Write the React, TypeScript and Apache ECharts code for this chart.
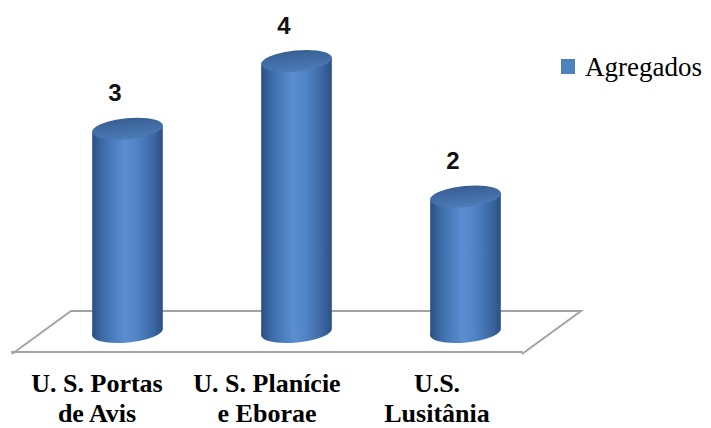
import React, { useEffect, useRef } from "react";
import * as echarts from "echarts";

const categories = ["U. S. Portas\nde Avis", "U. S. Planície\ne Eborae", "U.S.\nLusitânia"];
const values = [3, 4, 2];
const seriesName = "Agregados";

const SERIF = "Liberation Serif";
const SANS = "Liberation Sans";

export default function App() {
  const ref = useRef<HTMLDivElement>(null);
  useEffect(() => {
    if (!ref.current) return;
    const chart = echarts.init(ref.current, undefined, { renderer: "svg" });
    const bodyGrad = () =>
      new echarts.graphic.LinearGradient(0, 0, 1, 0, [
        { offset: 0, color: "#2A4F83" },
        { offset: 0.15, color: "#3E6CA8" },
        { offset: 0.45, color: "#5A8ED2" },
        { offset: 0.62, color: "#5285C7" },
        { offset: 0.86, color: "#3B67A2" },
        { offset: 1, color: "#2B5185" },
      ]);
    const topGrad = () =>
      new echarts.graphic.LinearGradient(0, 0, 0, 1, [
        { offset: 0, color: "#385F94" },
        { offset: 1, color: "#4C7BB8" },
      ]);
    const option: any = {
      animation: false,
      textStyle: { fontFamily: SERIF },
      legend: {
        left: 556,
        top: 48,
        icon: "rect",
        itemWidth: 14,
        itemHeight: 15,
        data: [seriesName],
        textStyle: {
          fontFamily: SERIF,
          fontSize: 27,
          color: "#000",
          padding: [0, 0, 0, 5],
        },
      },
      grid: [
        { left: 43, right: 161, top: 61, height: 271 },
        { left: 12, width: 510, top: 311, height: 43 },
      ],
      xAxis: [
        { type: "category", data: categories, gridIndex: 0, show: false },
        {
          type: "category",
          data: categories,
          gridIndex: 1,
          axisLine: { lineStyle: { color: "#A3A3A3", width: 2 } },
          axisTick: { length: 6, lineStyle: { color: "#A3A3A3", width: 2 } },
          axisLabel: {
            fontFamily: SERIF,
            fontWeight: "bold",
            fontSize: 26,
            lineHeight: 30,
            color: "#000",
            margin: 16,
            interval: 0,
          },
        },
      ],
      yAxis: [
        { type: "value", min: 0, max: 4, gridIndex: 0, show: false },
        { type: "value", gridIndex: 1, show: false },
      ],
      graphic: [
        {
          type: "polyline",
          z: 0,
          shape: { points: [[12, 354], [71, 311], [581, 311], [522, 354]] },
          style: { stroke: "#A3A3A3", lineWidth: 2, fill: null },
        },
      ],
      series: [
        {
          type: "custom",
          name: seriesName,
          xAxisIndex: 0,
          yAxisIndex: 0,
          z: 5,
          itemStyle: { color: "#4F81BD" },
          data: values.map((v, i) => [i, v]),
          renderItem: (params: any, api: any) => {
            const idx = api.value(0);
            const val = api.value(1);
            const top = api.coord([idx, val]);
            const base = api.coord([idx, 0]);
            const w = api.size([1, 0])[0] * 0.42;
            const rx = w / 2;
            const ry = 10.5;
            const rot = 0.1;
            const cx = top[0];
            const dx = rx * Math.cos(rot);
            const dy = rx * Math.sin(rot);
            return {
              type: "group",
              children: [
                {
                  type: "ellipse",
                  x: cx,
                  y: base[1],
                  rotation: rot,
                  shape: { cx: 0, cy: 0, rx, ry },
                  style: { fill: bodyGrad() },
                },
                {
                  type: "polygon",
                  shape: {
                    points: [
                      [cx - dx, top[1] + dy],
                      [cx + dx, top[1] - dy],
                      [cx + dx, base[1] - dy],
                      [cx - dx, base[1] + dy],
                    ],
                  },
                  style: { fill: bodyGrad() },
                },
                {
                  type: "ellipse",
                  x: cx,
                  y: top[1],
                  rotation: rot,
                  shape: { cx: 0, cy: 0, rx, ry },
                  style: { fill: topGrad() },
                },
                {
                  type: "text",
                  style: {
                    text: String(val),
                    x: cx - 12.5,
                    y: top[1] - 36,
                    align: "center",
                    verticalAlign: "middle",
                    fontFamily: SANS,
                    fontWeight: "bold",
                    fontSize: 24,
                    fill: "#111",
                  },
                },
              ],
            };
          },
        },
      ],
    };
    chart.setOption(option);
    return () => chart.dispose();
  }, []);
  return (
    <div
      ref={ref}
      style={{ position: "fixed", left: 0, top: 0, width: 711, height: 428, background: "#fff" }}
    />
  );
}
